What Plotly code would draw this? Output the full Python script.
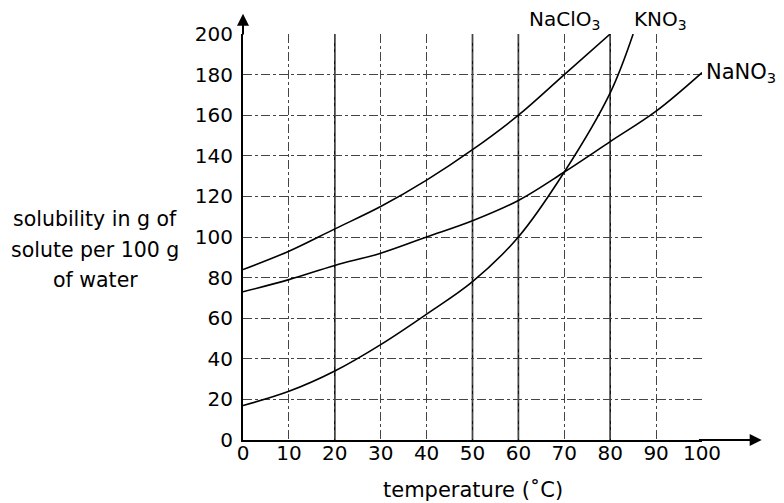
import plotly.graph_objects as go

# ---- data ----
temp_naclo3 = [0, 10, 20, 30, 40, 50, 60, 70, 80]
sol_naclo3 = [84, 93, 104, 115, 128, 143, 160, 180, 200]

temp_kno3 = [0, 10, 20, 30, 40, 50, 60, 70, 80, 85]
sol_kno3 = [17, 24, 34, 47, 62, 78, 100, 132, 171, 200]

temp_nano3 = [0, 10, 20, 30, 40, 50, 60, 70, 80, 90, 100]
sol_nano3 = [73, 79, 86, 92, 100, 108, 118, 132, 147, 162, 181]

x_ticks = [0, 10, 20, 30, 40, 50, 60, 70, 80, 90, 100]
y_ticks = [0, 20, 40, 60, 80, 100, 120, 140, 160, 180, 200]
solid_grid_x = [20, 50, 60, 80]

FONT = "DejaVu Sans"

fig = go.Figure()
for xs, ys in [(temp_naclo3, sol_naclo3), (temp_kno3, sol_kno3), (temp_nano3, sol_nano3)]:
    fig.add_trace(go.Scatter(x=xs, y=ys, mode="lines",
                             line=dict(color="black", width=1.6, shape="spline", smoothing=1.0),
                             showlegend=False, hoverinfo="skip"))

for gx in solid_grid_x:
    fig.add_shape(type="line", xref="x", yref="y", x0=gx, x1=gx, y0=0, y1=200,
                  line=dict(color="#111", width=1.6), layer="below")

# page body has an 8px offset; plot area should sit at x 243..702, y 34..440 in the window
fig.update_layout(
    width=784, height=503,
    margin=dict(l=235, r=90, t=26, b=71),
    paper_bgcolor="white", plot_bgcolor="white",
    font=dict(family=FONT, size=20, color="black"),
    xaxis=dict(range=[0, 100], tickvals=x_ticks, showgrid=True,
               gridcolor="#444", griddash="dashdot", gridwidth=1,
               showline=True, linecolor="black", linewidth=2,
               zeroline=False, ticks="", tickfont=dict(size=20),
               ticklabelstandoff=-6),
    yaxis=dict(range=[0, 200], tickvals=y_ticks, showgrid=True,
               gridcolor="#444", griddash="dashdot", gridwidth=1,
               showline=True, linecolor="black", linewidth=2,
               zeroline=False, ticks="", tickfont=dict(size=20),
               ticklabelstandoff=4),
)

# axis arrows
fig.add_annotation(x=0, y=210, xref="x", yref="y", ax=0, ay=199, axref="x", ayref="y",
                   showarrow=True, arrowhead=2, arrowsize=1.2, arrowwidth=2, arrowcolor="black", text="")
fig.add_annotation(x=113, y=0, xref="x", yref="y", ax=99, ay=0, axref="x", ayref="y",
                   showarrow=True, arrowhead=2, arrowsize=1.2, arrowwidth=2, arrowcolor="black", text="")

# curve labels
fig.add_annotation(x=0.7015, y=1.0, xref="paper", yref="paper", text="NaClO<sub>3</sub>",
                   showarrow=False, font=dict(size=20), xanchor="center", yanchor="bottom",
                   borderpad=0)
fig.add_annotation(x=0.9085, y=1.0, xref="paper", yref="paper", text="KNO<sub>3</sub>",
                   showarrow=False, font=dict(size=20), xanchor="center", yanchor="bottom",
                   borderpad=0)
fig.add_annotation(x=1.005, y=0.904, xref="paper", yref="paper", text="NaNO<sub>3</sub>",
                   showarrow=False, font=dict(size=21), xanchor="left", yanchor="middle")

# axis titles
ytitle_lines = ["solubility in g of", "solute per 100 g", "of water"]
for i, line in enumerate(ytitle_lines):
    fig.add_annotation(x=-0.322, y=(440 - (219 + 30.5 * i)) / 406, xref="paper", yref="paper",
                       text=line, showarrow=False, xanchor="center", yanchor="middle",
                       font=dict(size=20.5))
fig.add_annotation(x=0.501, y=-0.123, xref="paper", yref="paper", text="temperature (˚C)",
                   showarrow=False, xanchor="center", yanchor="middle", font=dict(size=21))

fig.write_html("out.html")
